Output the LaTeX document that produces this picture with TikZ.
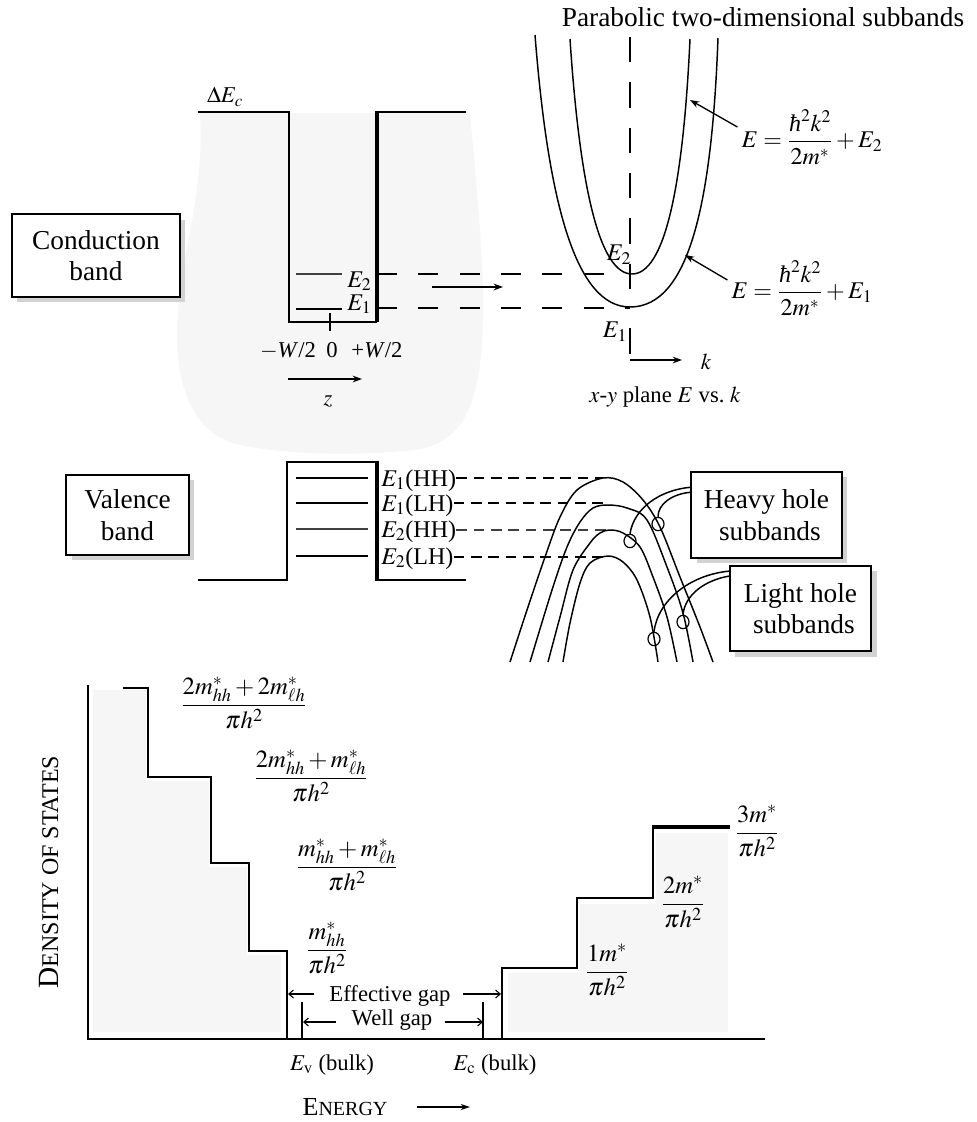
\documentclass[tikz,border=0pt]{standalone}
\usepackage{amsmath}
\usepackage{mathptmx}
\usepackage[no-math]{fontspec}
\setmainfont{Liberation Serif}
\usetikzlibrary{arrows.meta,shadows,calc,shapes.geometric}
\newcommand{\hb}{\text{\itshape ħ}}
\begin{document}
\begin{tikzpicture}[x=0.75pt,y=-0.75pt,
  ln/.style={line width=1.3pt},
  thk/.style={line width=2.3pt},
  dashC/.style={line width=1.2pt, dash pattern=on 15pt off 16pt},
  dashA/.style={line width=1.1pt, dash pattern=on 19pt off 15pt},
  dashV/.style={line width=1.1pt, dash pattern=on 8pt off 5pt},
  arr/.style={-{Stealth[length=7pt,width=5pt]}, line width=1pt},
  gaparr/.style={-{Straight Barb[length=3.5pt,width=6pt]}, line width=0.8pt},
  lbl/.style={font=\fontsize{17}{20}\selectfont, inner sep=0pt},
  vlbl/.style={font=\fontsize{18}{20}\selectfont, inner sep=0pt},
  frl/.style={font=\fontsize{18.5}{21}\selectfont, inner sep=0pt},
  fml/.style={font=\fontsize{18}{21}\selectfont, inner sep=0pt},
  bigt/.style={font=\fontsize{20.5}{22.5}\selectfont, align=center, inner sep=0pt},
  bx/.style={draw, line width=1.1pt, fill=white, align=center, inner sep=0pt,
     font=\fontsize{20.5}{23.5}\selectfont,
     drop shadow={shadow xshift=4pt, shadow yshift=-4pt, fill=gray!35, opacity=1}},
  crv/.style={line width=1.1pt},
  blob/.style={fill=gray!7},
  ring/.style={draw, line width=0.9pt, ellipse, minimum width=9pt, minimum height=10pt, inner sep=0pt},
]
\useasboundingbox (0,0) rectangle (976,1122);

% ---------- conduction band ----------
\fill[blob] (200,113) -- (470,113)
  .. controls (476,180) and (484,260) .. (483,313)
  .. controls (482,390) and (470,440) .. (420,449)
  .. controls (370,456) and (280,456) .. (233,443)
  .. controls (190,430) and (176,380) .. (177,330)
  .. controls (178,260) and (205,200) .. (200,113) -- cycle;

\draw[ln] (198,112) -- (289,112) -- (289,322) -- (377,322);
\draw[thk] (377,322) -- (377,111);
\draw[ln] (377,112) -- (466,112);
\draw[line width=1pt] (330,313) -- (330,331);
\draw[line width=1.3pt, black!75] (296,274) -- (342,274);
\draw[ln] (296,309) -- (342,309);

\node[vlbl, anchor=base west] (cE2) at (347,287) {$E_2$};
\node[vlbl, anchor=base west] (cE1) at (347,310) {$E_1$};
\node[lbl] (dEc) at (225,97) {$\Delta E_c$};
\node[lbl, anchor=base] (mW) at (288,357) {$-$\textit{W}/2};
\node[lbl, anchor=base] (zero) at (332,357) {0};
\node[lbl, anchor=base] (pW) at (377,357) {+\textit{W}/2};
\coordinate (zs) at (288,379);
\coordinate (ze) at (362,379);
\draw[arr] (zs) -- (ze);
\node[lbl] (zl) at (328,401) {$z$};

\node[bx, minimum width=126pt, minimum height=62pt] (cb) at (96,255.5) {Conduction\\band};

% dashed projections
\coordinate (d2s) at (377,274); \coordinate (d2e) at (608,274);
\coordinate (d1s) at (377,308); \coordinate (d1e) at (630,308);
\draw[dashC] (d2s) -- (d2e);
\draw[dashC] (d1s) -- (d1e);
\coordinate (ma) at (432,287); \coordinate (mb) at (503,287);
\draw[arr] (ma) -- (mb);

% parabolas
\draw[crv] (535,35) .. controls (548,200) and (575,307) .. (630,307)
                    .. controls (690,307) and (712,200) .. (718,38);
\draw[crv] (570,39) .. controls (580,190) and (600,274) .. (632,274)
                    .. controls (664,274) and (683,190) .. (690,39);
\draw[dashA] (630,37) -- (630,305);
\draw[line width=1pt] (630,328) -- (630,354);
\coordinate (ks) at (630,360); \coordinate (ke) at (682,360);
\draw[arr] (ks) -- (ke);
\node[lbl] (kl) at (706,362) {$k$};
\node[vlbl] (pE2) at (619,255) {$E_2$};
\node[vlbl] (pE1) at (615,332) {$E_1$};
\node[lbl] (xy) at (665,397) {$x$-$y$ plane $E$ vs.\ $k$};
\node[bigt] (title) at (763,17) {Parabolic two-dimensional subbands};

\node[fml] (f2) at (812,137) {$E=\dfrac{\hb^2k^2}{2m^*}+E_2$};
\node[fml] (f1) at (802,288) {$E=\dfrac{\hb^2k^2}{2m^*}+E_1$};
\coordinate (c2) at (690,100);
\coordinate (c1) at (685,255);
\draw[arr] (f2.west) ++(-4,-10) coordinate (a2) -- (c2);
\draw[arr] (f1.west) ++(-4,-8) coordinate (a1) -- (c1);

% ---------- valence band ----------
\node[bx, minimum width=92pt, minimum height=60pt] (vb) at (127.5,515) {Valence\\band};
\draw[ln] (198,580) -- (287,580) -- (287,462) -- (377,462);
\draw[thk] (377,461) -- (377,581);
\draw[ln] (377,580) -- (466,580);
\draw[ln] (296,478) -- (368,478);
\draw[ln] (296,503) -- (368,503);
\draw[line width=1.3pt, black!75] (296,529) -- (368,529);
\draw[ln] (296,556) -- (368,556);
\node[vlbl, anchor=base west] (l1) at (381,486) {$E_1$(HH)};
\node[vlbl, anchor=base west] (l2) at (381,511) {$E_1$(LH)};
\node[vlbl, anchor=base west] (l3) at (381,537) {$E_2$(HH)};
\node[vlbl, anchor=base west] (l4) at (381,564) {$E_2$(LH)};
\draw[dashV] (l1.east |- 0,478) -- (603,478);
\draw[dashV] (l2.east |- 0,503) -- (608,503);
\draw[dashV, black!75] (l3.east |- 0,530) -- (610,530);
\draw[dashV] (l4.east |- 0,557) -- (608,557);

\draw[crv] plot[smooth, tension=0.55] coordinates {(510,662) (527,610) (545,557) (560,517) (577,490) (603,478) (623,482) (643,500) (660,527) (680,577) (700,627) (713,662)};
\draw[crv] plot[smooth, tension=0.55] coordinates {(530,662) (552,590) (567,547) (580,522) (593,508) (608,505) (627,508) (647,520) (667,567) (683,613) (693,662)};
\draw[crv] plot[smooth, tension=0.55] coordinates {(548,662) (560,617) (573,570) (590,543) (600,533) (610,530) (623,533) (640,547) (653,577) (667,617) (677,662)};
\draw[crv] plot[smooth, tension=0.55] coordinates {(563,662) (570,623) (580,583) (590,563) (608,556) (623,562) (637,580) (650,617) (658,662)};

\node[ring] (o1) at (658,524) {};
\node[ring] (o3) at (630,541) {};
\node[ring] (o2) at (683,622) {};
\node[ring] (o4) at (654,639) {};

\node[bx, minimum width=113pt, minimum height=64.5pt] (hh) at (766.5,515) {Heavy hole\\\ subbands};
\node[bx, minimum width=106pt, minimum height=64pt] (lh) at (800.5,608.5) {Light hole\\\ subbands};
\draw[crv] ($(hh.north west)+(0,16)$) .. controls (660,490) and (634,508) .. (o3.north);
\draw[crv] ($(hh.north west)+(0,21)$) .. controls (672,494) and (658,504) .. (o1.north);
\draw[crv] ($(lh.north west)+(0,6)$) .. controls (690,575) and (658,600) .. (o4.north);
\draw[crv] ($(lh.north west)+(0,11)$) .. controls (706,580) and (685,594) .. (o2.north);

% ---------- density of states ----------
\fill[blob] (93,690) -- (146,690) -- (146,781) -- (209,781) -- (209,867) -- (247,867) -- (247,955) -- (281,955) -- (281,1032) -- (93,1032) -- cycle;
\fill[blob] (508,1032) -- (508,973) -- (580,973) -- (580,904) -- (656,904) -- (656,833) -- (728,833) -- (728,1032) -- cycle;
\draw[ln] (88,685) -- (88,1039) -- (765,1039);
\draw[ln] (123,688) -- (148,688) -- (148,777) -- (211,777) -- (211,863) -- (249,863) -- (249,951) -- (287,951) -- (287,1039);
\draw[ln] (502,1039) -- (502,968) -- (577,968) -- (577,898) -- (653,898) -- (653,827);
\draw[thk] (652,827) -- (730,827);

\node[frl] (fa) at (244,703) {$\dfrac{2m^*_{hh}+2m^*_{\ell h}}{\pi h^2}$};
\node[frl] (fb) at (311,776) {$\dfrac{2m^*_{hh}+m^*_{\ell h}}{\pi h^2}$};
\node[frl] (fc) at (347,865) {$\dfrac{m^*_{hh}+m^*_{\ell h}}{\pi h^2}$};
\node[frl] (fd) at (327,948) {$\dfrac{m^*_{hh}}{\pi h^2}$};
\node[frl] (ra) at (607,970) {$\dfrac{1m^*}{\pi h^2}$};
\node[frl] (rb) at (683,902) {$\dfrac{2m^*}{\pi h^2}$};
\node[frl] (rc) at (757,831) {$\dfrac{3m^*}{\pi h^2}$};

\node[lbl] (eg) at (390,996) {Effective gap};
\node[lbl] (wg) at (392,1020) {Well gap};
\coordinate (egL) at (288,994); \coordinate (egR) at (501,994);
\draw[gaparr] (eg.west) ++(-15,-2) -- (egL);
\draw[gaparr] (eg.east) ++(12,-2) -- (egR);
\coordinate (wgL) at (303,1022); \coordinate (wgR) at (483,1022);
\draw[gaparr] (wg.west) ++(-15,2) -- (wgL);
\draw[gaparr] (wg.east) ++(12,2) -- (wgR);
\draw[line width=1pt] (302,1002) -- (302,1039);
\draw[line width=1pt] (483,1002) -- (483,1039);

\node[lbl, anchor=base] (ev) at (332,1070) {$E_{\mathrm{v}}$ (bulk)};
\node[lbl, anchor=base] (ec) at (495,1070) {$E_{\mathrm{c}}$ (bulk)};

\node[inner sep=0pt, anchor=base] (en) at (345,1115) {\fontsize{19.5}{20}\selectfont E\fontsize{15}{16}\selectfont NERGY};
\coordinate (eas) at (417,1107); \coordinate (eae) at (470,1107);
\draw[line width=1pt, -{Stealth[length=7pt,width=4.5pt]}] (eas) -- (eae);
\node[inner sep=0pt, rotate=90, anchor=base] (dos) at (58,872) {\fontsize{22}{22}\selectfont D\fontsize{18}{18}\selectfont ENSITY OF STATES};
\end{tikzpicture}
\end{document}
